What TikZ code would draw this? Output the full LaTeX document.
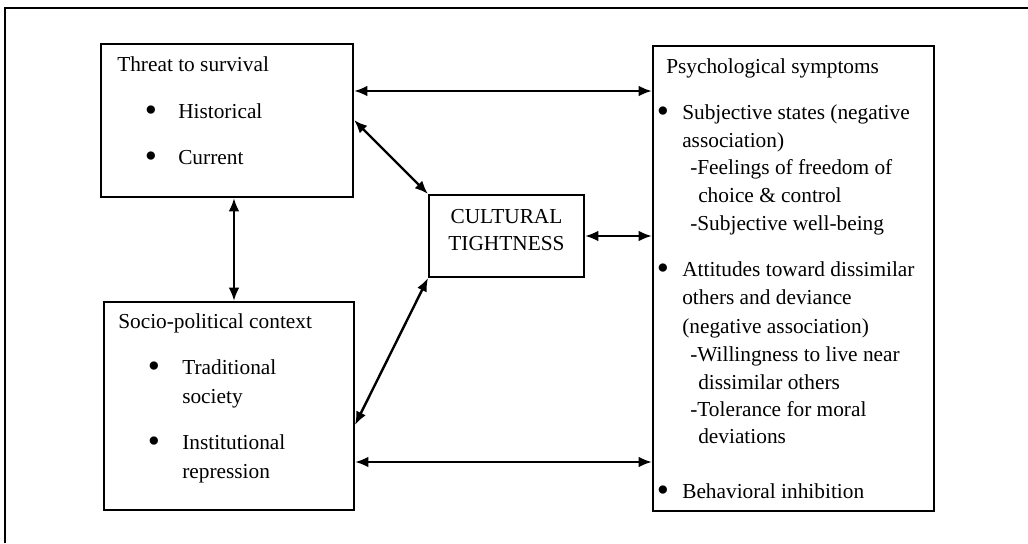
\documentclass[tikz,border=0pt]{standalone}
\usepackage{fontspec}
\setmainfont{Liberation Serif}
\usetikzlibrary{arrows.meta,fit}
\begin{document}
\begin{tikzpicture}[x=.75pt, y=-.75pt, font=\fontsize{16}{20}\selectfont,
    box/.style={draw, line width=1.5pt, inner sep=0pt},
    txt/.style={anchor=west, inner sep=0pt, text height=1.5ex, text depth=1ex, yshift=-4pt},
    dot/.style={inner sep=0pt, font=\fontsize{26}{26}\selectfont, yshift=-1.5pt},
    link/.style={{Latex[length=10pt,width=8pt]}-{Latex[length=10pt,width=8pt]}, line width=1.8pt}]
    \useasboundingbox (0,0) rectangle (1028,543);
    \draw[line width=1pt] (5,543) -- (5,8) -- (1028,8);
    % the four boxes
    \node[box, fit={(101,44) (353,197)}] (threat) {};
    \node[box, fit={(104,302) (354,510)}] (socio) {};
    \node[box, fit={(429,195) (584,277)}] (tight) {};
    \node[box, fit={(653,46) (934,511)}] (psych) {};
    % box texts
    \node[txt] (threattitle) at (117,65) {Threat to survival};
    \foreach \y/\t [count=\i] in {112/Historical, 158/Current} {
      \node[dot] (threatdot\i) at (151,\y) {\textbullet};
      \node[txt] (threatitem\i) at (178,\y) {\t};
    }
    \node[txt] (sociotitle) at (118,322) {Socio-political context};
    \foreach \y [count=\i] in {368,443}
      \node[dot] (sociodot\i) at (154,\y) {\textbullet};
    \foreach \y/\t [count=\i] in {368/Traditional, 397/society, 443/Institutional, 472/repression}
      \node[txt] (socioitem\i) at (182,\y) {\t};
    \node[align=center, inner sep=0pt, yshift=4.5pt] (tighttext) at (tight) {CULTURAL\\TIGHTNESS};
    \node[txt] (psychtitle) at (666,67) {Psychological symptoms};
    \foreach \y [count=\i] in {113,270,492}
      \node[dot] (psychdot\i) at (663,\y) {\textbullet};
    \foreach \x/\y/\t [count=\i] in {682/113/Subjective states (negative,
        682/141/association), 690/168/-Feelings of freedom of,
        698/196/choice \& control, 690/224/-Subjective well-being,
        682/270/Attitudes toward dissimilar, 682/298/others and deviance,
        682/327/(negative association), 690/355/-Willingness to live near,
        698/383/dissimilar others, 690/410/-Tolerance for moral,
        698/437/deviations, 682/492/Behavioral inhibition}
      \node[txt] (psychitem\i) at (\x,\y) {\t};
    % connectors
    \draw[link] (threat.east |- 0,91) -- (psych.west |- 0,91);
    \draw[link] (threat.east |- 0,120) -- (tight.north west);
    \draw[link] (socio.east |- 0,425) -- (tight.south west);
    \draw[link] (tight.east) -- (tight.east -| psych.west);
    \draw[link] (threat.south -| 234,0) -- (socio.north -| 234,0);
    \draw[link] (socio.east |- 0,462) -- (psych.west |- 0,462);
  \end{tikzpicture}
\end{document}
